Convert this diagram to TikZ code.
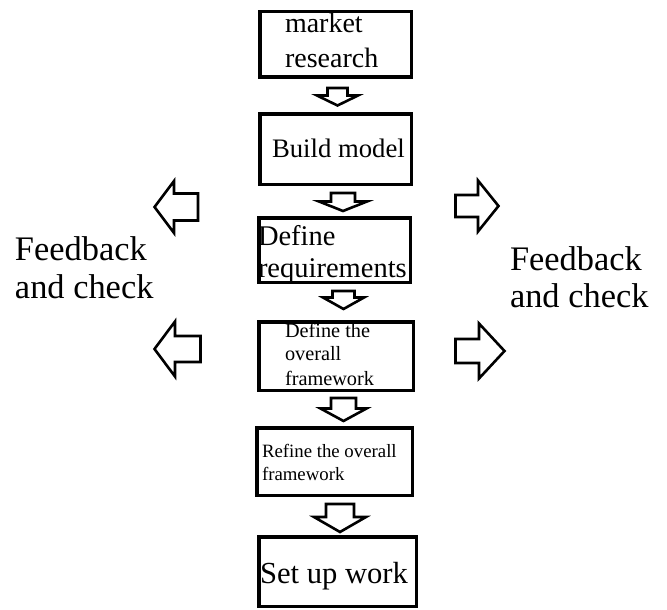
\documentclass[tikz,border=0pt]{standalone}
\usepackage{fontspec}
\setmainfont{Liberation Serif}
\newcommand\dblk[6]{%
  \draw[blk] ({#1-#5},#2) -- ({#1+#5},#2) -- ({#1+#5},#3) -- ({#1+#6},#3) -- (#1,#4)
    -- ({#1-#6},#3) -- ({#1-#5},#3) -- cycle;}
\newcommand\hblk[6]{%
  \draw[blk] (#4,{#2-#5}) -- (#3,{#2-#5}) -- (#3,{#2-#6}) -- (#1,#2) -- (#3,{#2+#6})
    -- (#3,{#2+#5}) -- (#4,{#2+#5}) -- cycle;}
\begin{document}
\begin{tikzpicture}[x=1pt,y=-1pt,
  box/.style={draw, line width=3.5pt, inner sep=0pt, rectangle},
  blk/.style={draw, line width=2.6pt, line join=miter, fill=white},
  txt/.style={anchor=base west, inner sep=0pt, outer sep=0pt}]
\useasboundingbox[fill=white] (0,0) rectangle (667,610);
% boxes
\node[box, minimum width=151.5pt, minimum height=65.5pt] (b1) at (335.5,44.5) {};
\node[box, minimum width=151.5pt, minimum height=70.5pt] (b2) at (335.5,149) {};
\node[box, minimum width=151.5pt, minimum height=64.5pt] (b3) at (334.5,250) {};
\node[box, minimum width=154.5pt, minimum height=68.5pt] (b4) at (336,356) {};
\node[box, minimum width=155.5pt, minimum height=67.5pt] (b5) at (334.5,461.5) {};
\node[box, minimum width=157.5pt, minimum height=69.5pt] (b6) at (337.5,571.5) {};
% box texts
\node[txt, font=\fontsize{28}{34}\selectfont] (t1a) at (285,33) {market};
\node[txt, font=\fontsize{28}{34}\selectfont] (t1b) at (285,68) {research};
\node[txt, font=\fontsize{26.7}{32}\selectfont] (t2) at (272,157) {Build model};
\node[txt, font=\fontsize{28.5}{34}\selectfont] (t3a) at (258,245) {Define};
\node[txt, font=\fontsize{28.5}{34}\selectfont] (t3b) at (258,277) {requirements};
\node[txt, font=\fontsize{20.3}{24}\selectfont] (t4a) at (285,337) {Define the};
\node[txt, font=\fontsize{20.3}{24}\selectfont] (t4b) at (285,360) {overall};
\node[txt, font=\fontsize{20.3}{24}\selectfont] (t4c) at (285,385) {framework};
\node[txt, font=\fontsize{18.8}{23}\selectfont] (t5a) at (262,457) {Refine the overall};
\node[txt, font=\fontsize{18.8}{23}\selectfont] (t5b) at (262,480) {framework};
\node[txt, font=\fontsize{30.6}{36}\selectfont] (t6) at (260,583) {Set up work};
% side labels
\node[txt, font=\fontsize{34.4}{38}\selectfont] (fl1) at (15,260) {Feedback};
\node[txt, font=\fontsize{34.4}{38}\selectfont] (fl2) at (15,298) {and check};
\node[txt, font=\fontsize{34.4}{38}\selectfont] (fr1) at (510,270) {Feedback};
\node[txt, font=\fontsize{34.4}{38}\selectfont] (fr2) at (510,307) {and check};
% down block arrows
\dblk{337.5}{88}{95.5}{105.5}{10}{20.5}
\dblk{343}{193}{201.5}{211}{12}{24}
\dblk{343.5}{291}{297.5}{309}{11}{20.5}
\dblk{343.5}{398}{408.5}{421}{12.5}{23}
\dblk{340}{504}{517}{532}{14}{26}
% side block arrows
\hblk{154.5}{207}{174}{198}{13.5}{26}
\hblk{154.5}{349}{175}{200.5}{13}{27.5}
\hblk{498.5}{206}{478}{455.5}{11}{25.5}
\hblk{504.5}{351}{479}{455.5}{12}{27.5}
\end{tikzpicture}
\end{document}
